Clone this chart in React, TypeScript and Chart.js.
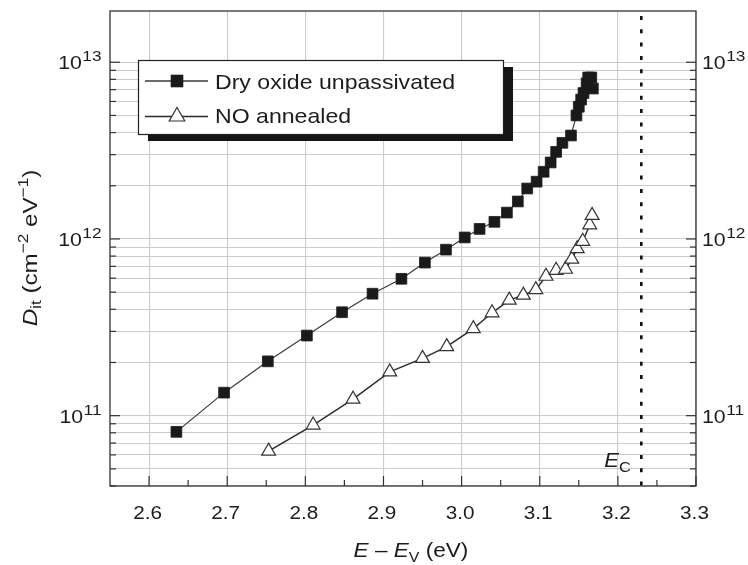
import React, { useEffect, useRef } from 'react';
import { Chart, registerables } from 'chart.js';

Chart.register(...registerables);

// ---------- data ----------
const seriesLabels = ['Dry oxide unpassivated', 'NO annealed'];

const dryEnergy = [2.635, 2.696, 2.752, 2.802, 2.847, 2.886, 2.923, 2.953, 2.980, 3.004, 3.023, 3.042, 3.058, 3.072, 3.084, 3.096, 3.105, 3.114, 3.121, 3.129, 3.140, 3.147, 3.150, 3.153, 3.156, 3.160, 3.162, 3.166, 3.168];
const dryDit = [8.1e10, 1.35e11, 2.03e11, 2.84e11, 3.85e11, 4.9e11, 5.95e11, 7.35e11, 8.7e11, 1.02e12, 1.14e12, 1.25e12, 1.41e12, 1.63e12, 1.93e12, 2.11e12, 2.4e12, 2.71e12, 3.11e12, 3.5e12, 3.85e12, 5.0e12, 5.6e12, 6.15e12, 6.7e12, 7.6e12, 8.2e12, 8.2e12, 7.1e12];

const noEnergy = [2.753, 2.810, 2.861, 2.908, 2.950, 2.981, 3.015, 3.039, 3.061, 3.079, 3.095, 3.108, 3.121, 3.133, 3.141, 3.148, 3.155, 3.164, 3.167];
const noDit = [6.3e10, 8.85e10, 1.24e11, 1.77e11, 2.11e11, 2.46e11, 3.11e11, 3.82e11, 4.51e11, 4.81e11, 5.17e11, 6.15e11, 6.65e11, 6.74e11, 7.68e11, 8.81e11, 9.7e11, 1.2e12, 1.36e12];

const xTickLabels = ['2.6', '2.7', '2.8', '2.9', '3.0', '3.1', '3.2', '3.3'];
const xMinorTicks = [2.65, 2.75, 2.85, 2.95, 3.05, 3.15, 3.25];
const yDecadeExponents = [11, 12, 13];
const yGridDecades = [10, 11, 12, 13];
const yGridMultipliers = [1, 2, 3, 4, 5, 6, 7, 8, 9];
const ecEnergy = 3.23;
const ecLabel = ['E', 'C'];
const xTitle = ['E', ' \u2013 ', 'E', 'V', ' (eV)'];
const yTitle = ['D', 'it', ' (cm', '\u22122', ' eV', '\u22121', ')'];

const X_MIN = 2.55;
const X_MAX = 3.3;
const Y_MIN = 4.0e10;
const Y_MAX = 1.95e13;

const FONT = '"Liberation Sans", Arial, Helvetica, sans-serif';
const TEXT = '#1c1c1c';

function drawText(ctx: CanvasRenderingContext2D, s: string, x: number, y: number, font: string, align: string = 'left', sx: number = 1): number {
  ctx.save();
  ctx.font = font;
  ctx.textBaseline = 'alphabetic';
  ctx.textAlign = 'left';
  const w = ctx.measureText(s).width * sx;
  const x0 = align === 'center' ? x - w / 2 : align === 'right' ? x - w : x;
  ctx.translate(x0, y);
  ctx.scale(sx, 1);
  ctx.fillStyle = TEXT;
  ctx.fillText(s, 0, 0);
  ctx.restore();
  return w;
}

function measure(ctx: CanvasRenderingContext2D, s: string, font: string, sx: number = 1): number {
  ctx.save();
  ctx.font = font;
  const w = ctx.measureText(s).width * sx;
  ctx.restore();
  return w;
}

function line(ctx: CanvasRenderingContext2D, x1: number, y1: number, x2: number, y2: number) {
  ctx.beginPath();
  ctx.moveTo(x1, y1);
  ctx.lineTo(x2, y2);
  ctx.stroke();
}

function isDecade(v: number) {
  const l = Math.log10(v);
  return Math.abs(l - Math.round(l)) < 1e-6;
}

const decoPlugin = {
  id: 'deco',
  beforeDatasetsDraw(chart: any) {
    const { ctx, chartArea: a, scales } = chart;
    const ex = scales.x.getPixelForValue(ecEnergy);
    ctx.save();
    ctx.strokeStyle = '#111';
    ctx.lineWidth = 2.6;
    ctx.setLineDash([4, 9.3]);
    line(ctx, ex, a.top + 5, ex, a.bottom);
    ctx.restore();
  },
  afterDraw(chart: any) {
    const { ctx, chartArea: a, scales } = chart;
    const xs = scales.x;
    const ys = scales.y;
    ctx.save();

    // frame
    ctx.strokeStyle = '#333';
    ctx.lineWidth = 1.3;
    ctx.strokeRect(a.left, a.top, a.right - a.left, a.bottom - a.top);

    // inward tick marks
    ctx.lineWidth = 1.2;
    for (const t of ys.ticks) {
      const py = ys.getPixelForValue(t.value);
      const len = isDecade(t.value) ? 10 : 6;
      line(ctx, a.left, py, a.left + len, py);
      line(ctx, a.right, py, a.right - len, py);
    }
    for (const lab of xTickLabels) {
      const px = xs.getPixelForValue(parseFloat(lab));
      line(ctx, px, a.bottom, px, a.bottom - 10);
    }
    for (const v of xMinorTicks) {
      const px = xs.getPixelForValue(v);
      line(ctx, px, a.bottom, px, a.bottom - 6);
    }

    // x tick labels
    const tickFont = `18px ${FONT}`;
    for (const lab of xTickLabels) {
      const px = xs.getPixelForValue(parseFloat(lab));
      drawText(ctx, lab, px - 1.5, a.bottom + 33, tickFont, 'center', 1.15);
    }

    // y tick labels (both sides) with superscripts
    const baseFont = `19px ${FONT}`;
    const supFont = `15px ${FONT}`;
    for (const e of yDecadeExponents) {
      const py = ys.getPixelForValue(Math.pow(10, e));
      const wb = measure(ctx, '10', baseFont, 1.12);
      const ws = measure(ctx, String(e), supFont, 1.15);
      // left
      const lx = a.left - 9 - ws - wb;
      drawText(ctx, '10', lx, py + 7.2, baseFont, 'left', 1.12);
      drawText(ctx, String(e), lx + wb + 0.5, py - 1, supFont, 'left', 1.15);
      // right
      const rx = a.right + 6;
      drawText(ctx, '10', rx, py + 7.2, baseFont, 'left', 1.12);
      drawText(ctx, String(e), rx + wb + 0.5, py - 1, supFont, 'left', 1.15);
    }

    // E_C label
    const ex = xs.getPixelForValue(ecEnergy);
    const we = drawText(ctx, ecLabel[0], ex - 37, a.bottom - 19.5, `italic 20px ${FONT}`, 'left', 1.1);
    drawText(ctx, ecLabel[1], ex - 37 + we, a.bottom - 14.5, `15px ${FONT}`, 'left', 1.1);

    // x axis title
    {
      const big = `20px ${FONT}`;
      const ital = `italic 20px ${FONT}`;
      const sub = `14px ${FONT}`;
      const sx = 1.13;
      const parts = [
        { s: xTitle[0], f: ital, dy: 0 },
        { s: xTitle[1], f: big, dy: 0 },
        { s: xTitle[2], f: ital, dy: 0 },
        { s: xTitle[3], f: sub, dy: 4.5 },
        { s: xTitle[4], f: big, dy: 0 },
      ];
      const total = parts.reduce((acc, p) => acc + measure(ctx, p.s, p.f, sx), 0);
      let cx = (a.left + a.right) / 2 + 8 - total / 2;
      const by = a.bottom + 71;
      for (const p of parts) {
        cx += drawText(ctx, p.s, cx, by + p.dy, p.f, 'left', sx);
      }
    }

    // y axis title (rotated)
    {
      const big = `21px ${FONT}`;
      const ital = `italic 21px ${FONT}`;
      const small = `15px ${FONT}`;
      const sx = 1.15;
      const parts = [
        { s: yTitle[0], f: ital, dy: 0 },
        { s: yTitle[1], f: small, dy: 4.5 },
        { s: yTitle[2], f: big, dy: 0 },
        { s: yTitle[3], f: small, dy: -9 },
        { s: yTitle[4], f: big, dy: 0 },
        { s: yTitle[5], f: small, dy: -9 },
        { s: yTitle[6], f: big, dy: 0 },
      ];
      const total = parts.reduce((acc, p) => acc + measure(ctx, p.s, p.f, sx), 0);
      ctx.save();
      ctx.translate(36.5, 248);
      ctx.rotate(-Math.PI / 2);
      let cx = -total / 2;
      for (const p of parts) {
        cx += drawText(ctx, p.s, cx, p.dy, p.f, 'left', sx);
      }
      ctx.restore();
    }

    // legend with drop shadow
    {
      const lx = a.left + 28;
      const ly = a.top + 49;
      const lw = 365;
      const lh = 74;
      ctx.fillStyle = '#151515';
      ctx.fillRect(lx + 10, ly + 7, lw, lh);
      ctx.fillStyle = '#ffffff';
      ctx.fillRect(lx, ly, lw, lh);
      ctx.strokeStyle = '#222';
      ctx.lineWidth = 1.2;
      ctx.strokeRect(lx + 0.5, ly + 0.5, lw, lh);

      const rows = [ly + 21, ly + 56.5];
      const textBase = [ly + 29, ly + 62.5];
      const x1 = lx + 7;
      const x2 = lx + 70;
      const mx = lx + 39;
      chart.data.datasets.forEach((ds: any, i: number) => {
        const ry = rows[i];
        ctx.strokeStyle = ds.borderColor;
        ctx.lineWidth = 1.3;
        line(ctx, x1, ry, x2, ry);
        if (ds.pointStyle === 'rect') {
          const s = 6.3;
          ctx.fillStyle = ds.pointBackgroundColor;
          ctx.fillRect(mx - s, ry - s, 2 * s, 2 * s);
        } else {
          const r = 9;
          ctx.beginPath();
          ctx.moveTo(mx, ry - r);
          ctx.lineTo(mx + r * Math.sin(2 * Math.PI / 3), ry + r / 2);
          ctx.lineTo(mx - r * Math.sin(2 * Math.PI / 3), ry + r / 2);
          ctx.closePath();
          ctx.fillStyle = '#fff';
          ctx.fill();
          ctx.strokeStyle = ds.pointBorderColor;
          ctx.lineWidth = 1.2;
          ctx.stroke();
        }
        drawText(ctx, ds.label, lx + 77, textBase[i], `21px ${FONT}`, 'left', 1.1);
      });
    }

    ctx.restore();
  },
};

export default function App() {
  const canvasRef = useRef<HTMLCanvasElement | null>(null);

  useEffect(() => {
    const canvas = canvasRef.current;
    if (!canvas) return;

    const yTickValues: number[] = [];
    for (const d of yGridDecades) {
      for (const m of yGridMultipliers) {
        const v = m * Math.pow(10, d);
        if (v >= Y_MIN && v <= Y_MAX) yTickValues.push(v);
      }
    }

    const chart = new Chart(canvas, {
      type: 'line',
      data: {
        datasets: [
          {
            label: seriesLabels[0],
            data: dryEnergy.map((e, i) => ({ x: e, y: dryDit[i] })),
            borderColor: '#3a3a3a',
            borderWidth: 1.2,
            pointStyle: 'rect',
            pointRadius: 7.6,
            pointBorderWidth: 0.8,
            pointBackgroundColor: '#1a1a1a',
            pointBorderColor: '#1a1a1a',
            tension: 0,
          },
          {
            label: seriesLabels[1],
            data: noEnergy.map((e, i) => ({ x: e, y: noDit[i] })),
            borderColor: '#2a2a2a',
            borderWidth: 1.4,
            pointStyle: 'triangle',
            pointRadius: 8,
            pointBorderWidth: 1.2,
            pointBackgroundColor: '#ffffff',
            pointBorderColor: '#333333',
            tension: 0,
          },
        ],
      },
      options: {
        responsive: false,
        maintainAspectRatio: false,
        devicePixelRatio: 1,
        animation: false,
        events: [],
        layout: { padding: { left: 0, right: 52, top: 11, bottom: 0 } },
        plugins: {
          legend: { display: false },
          tooltip: { enabled: false },
        },
        scales: {
          x: {
            type: 'linear',
            min: X_MIN,
            max: X_MAX,
            afterBuildTicks: (axis: any) => {
              axis.ticks = xTickLabels.map((l) => ({ value: parseFloat(l) }));
            },
            afterFit: (axis: any) => {
              axis.height = 79;
            },
            ticks: { display: false },
            grid: { color: '#cdcdcd', lineWidth: 1.1, drawTicks: false },
            border: { display: false },
          },
          y: {
            type: 'logarithmic',
            min: Y_MIN,
            max: Y_MAX,
            afterBuildTicks: (axis: any) => {
              axis.ticks = yTickValues.map((v) => ({ value: v }));
            },
            afterFit: (axis: any) => {
              axis.width = 110;
            },
            ticks: { display: false },
            grid: { color: '#cdcdcd', lineWidth: 1.1, drawTicks: false },
            border: { display: false },
          },
        },
      },
      plugins: [decoPlugin],
    } as any);

    return () => {
      chart.destroy();
    };
  }, []);

  return (
    <div style={{ position: 'absolute', left: 0, top: 0, width: 748, height: 565, background: '#ffffff' }}>
      <canvas ref={canvasRef} width={748} height={565} style={{ display: 'block', width: 748, height: 565 }} />
    </div>
  );
}
